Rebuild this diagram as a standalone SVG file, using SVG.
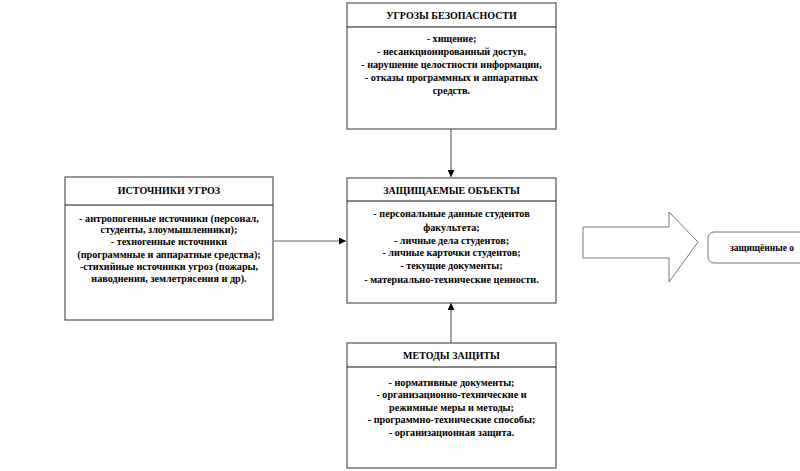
<svg xmlns="http://www.w3.org/2000/svg" width="800" height="471" viewBox="0 0 800 471">
<defs>
<style>
.box{fill:#fff;stroke:#555;stroke-width:1.2}
.div{stroke:#111;stroke-width:1.2}
.h{font-family:"Liberation Serif","Times New Roman",serif;font-weight:bold;font-size:10px;fill:#000;text-anchor:middle}
.t{font-family:"Liberation Serif","Times New Roman",serif;font-weight:bold;font-size:10.2px;fill:#000;text-anchor:middle}
.c{stroke:#666;stroke-width:1.2;fill:none}
</style>
<marker id="ah" viewBox="0 0 10 10" refX="10" refY="5" markerWidth="7" markerHeight="7" markerUnits="userSpaceOnUse" orient="auto">
<path d="M0,0 L10,5 L0,10 z" fill="#000"/>
</marker>
</defs>
<rect width="800" height="471" fill="#fff"/>

<g id="connectors">
<line class="c" x1="451" y1="129" x2="451" y2="177" marker-end="url(#ah)"/>
<line class="c" x1="274" y1="241" x2="346" y2="241" marker-end="url(#ah)"/>
<line class="c" x1="451" y1="343" x2="451" y2="303" marker-end="url(#ah)"/>
<path d="M583,227 L669,227 L669,212 L698,242 L669,282 L669,258 L583,258 Z" fill="#fff" stroke="#777" stroke-width="1"/>
</g>

<g id="threats">
<rect class="box" x="347" y="3" width="209" height="126"/>
<line class="div" x1="347" y1="27" x2="556" y2="27"/>
<text class="h" x="451.5" y="19">УГРОЗЫ БЕЗОПАСНОСТИ</text>
<text class="t" x="451.5" y="42">- хищение;</text>
<text class="t" x="451.5" y="55">- несанкционированный доступ,</text>
<text class="t" x="451.5" y="68">- нарушение целостности информации,</text>
<text class="t" x="451.5" y="81">- отказы программных и аппаратных</text>
<text class="t" x="451.5" y="94">средств.</text>
</g>

<g id="sources">
<rect class="box" x="65" y="177" width="208" height="143"/>
<line class="div" x1="65" y1="205" x2="273" y2="205"/>
<text class="h" x="169" y="194">ИСТОЧНИКИ  УГРОЗ</text>
<text class="t" x="169" y="221.5">- антропогенные источники (персонал,</text>
<text class="t" x="169" y="233">студенты,  злоумышленники);</text>
<text class="t" x="169" y="245">- техногенные  источники</text>
<text class="t" x="169" y="257.5">(программные и аппаратные средства);</text>
<text class="t" x="169" y="269.5">-стихийные  источники угроз (пожары,</text>
<text class="t" x="169" y="281.5">наводнения, землетрясения и др).</text>
</g>

<g id="protected">
<rect class="box" x="347" y="178" width="209" height="125"/>
<line class="div" x1="347" y1="201" x2="556" y2="201"/>
<text class="h" x="451.5" y="194">ЗАЩИЩАЕМЫЕ  ОБЪЕКТЫ</text>
<text class="t" x="451.5" y="216.5">- персональные данные студентов</text>
<text class="t" x="451.5" y="230.5">факультета;</text>
<text class="t" x="451.5" y="243.5">- личные дела студентов;</text>
<text class="t" x="451.5" y="255.5">- личные карточки студентов;</text>
<text class="t" x="451.5" y="268.5">- текущие документы;</text>
<text class="t" x="451.5" y="282.5">- материально-технические  ценности.</text>
</g>

<g id="methods">
<rect class="box" x="347" y="343" width="209" height="125"/>
<line class="div" x1="347" y1="367" x2="556" y2="367"/>
<text class="h" x="451.5" y="359">МЕТОДЫ  ЗАЩИТЫ</text>
<text class="t" x="451.5" y="385.5">- нормативные документы;</text>
<text class="t" x="451.5" y="397.5">- организационно-технические  и</text>
<text class="t" x="451.5" y="410.5">режимные меры и методы;</text>
<text class="t" x="451.5" y="422.5">- программно-технические  способы;</text>
<text class="t" x="451.5" y="435.5">- организационная защита.</text>
</g>

<g id="result">
<rect x="708" y="232" width="120" height="31" rx="6" ry="6" fill="#fff" stroke="#777" stroke-width="1"/>
<text x="730" y="251" font-family="'Liberation Serif','Times New Roman',serif" font-weight="bold" font-size="9.5px" fill="#000">защищённые о</text>
</g>
</svg>
